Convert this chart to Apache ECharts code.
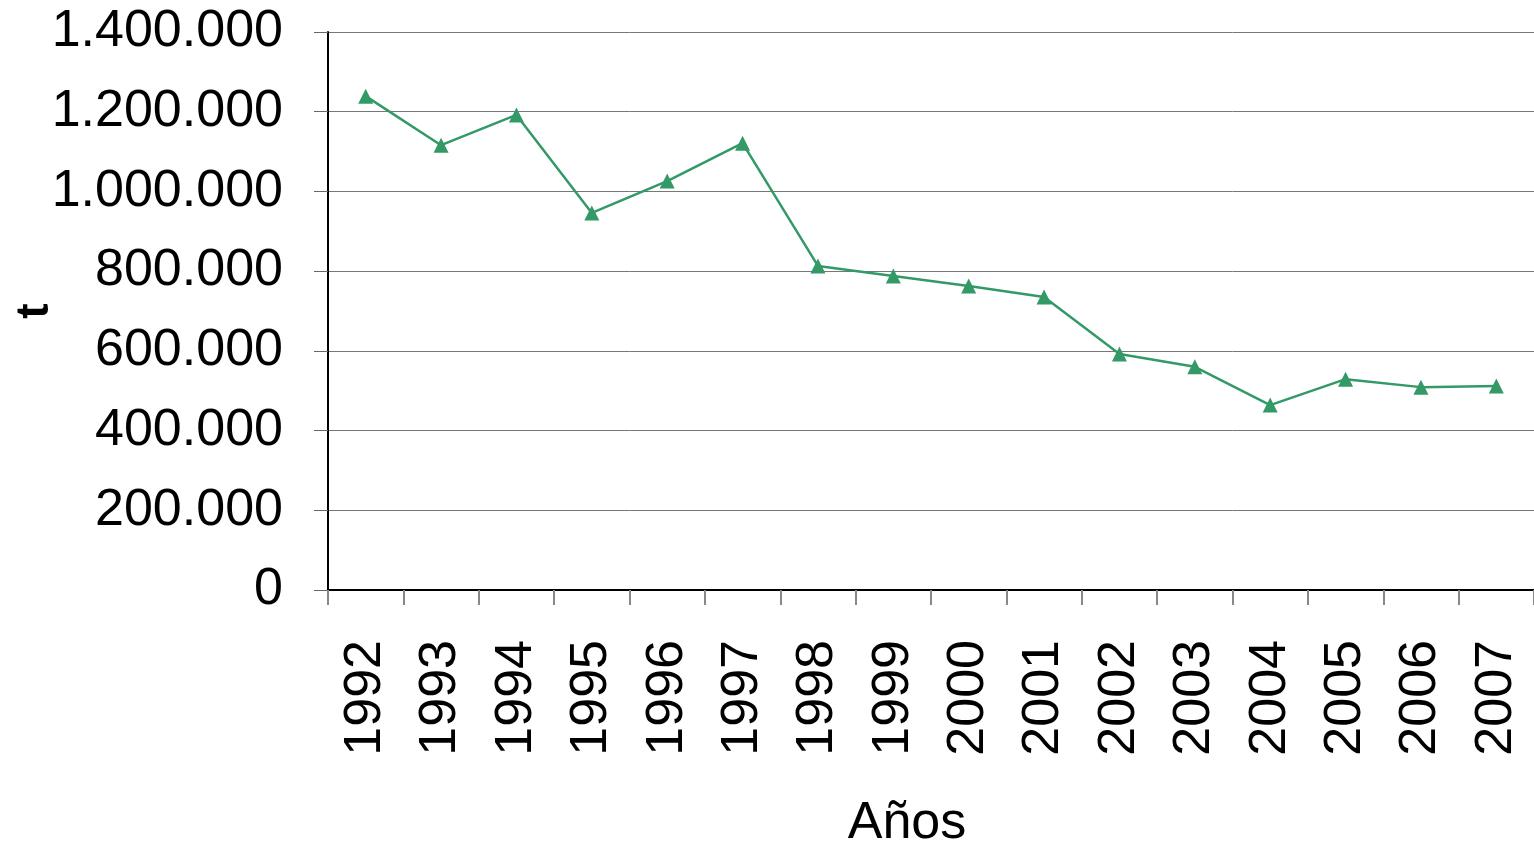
<!DOCTYPE html>
<html>
<head>
<meta charset="utf-8">
<script src="https://cdn.jsdelivr.net/npm/echarts@6/dist/echarts.min.js"></script>
<style>
  html, body { margin: 0; padding: 0; background: #fff; }
  #chart { width: 1534px; height: 849px; }
</style>
</head>
<body>
<div id="chart"></div>
<script>
  // datos
  const years = ['1992', '1993', '1994', '1995', '1996', '1997', '1998', '1999',
    '2000', '2001', '2002', '2003', '2004', '2005', '2006', '2007']
  const toneladas = [1239000, 1116000, 1192000, 946000, 1026000, 1121000, 813000, 788000,
    763000, 735000, 592000, 560000, 464000, 529000, 509000, 512000]
  const yMin = 0
  const yMax = 1400000
  const yStep = 200000

  const font = 'Liberation Sans, Arial, sans-serif'
  const chart = echarts.init(document.getElementById('chart'))

  chart.setOption({
    animation: false,
    grid: { left: 328, right: 0, top: 32, bottom: 259, containLabel: false, outerBoundsMode: 'none' },
    xAxis: {
      type: 'category',
      data: years,
      boundaryGap: true,
      name: 'Años',
      nameLocation: 'middle',
      nameGap: 208,
      nameMoveOverlap: false,
      nameTextStyle: { color: '#000', fontSize: 52, fontFamily: font, padding: [0, 48, 0, 0] },
      axisLine: { lineStyle: { color: '#000', width: 2 } },
      axisTick: { show: true, length: 15, lineStyle: { color: '#888', width: 2 } },
      axisLabel: {
        rotate: 90,
        color: '#000',
        fontSize: 52,
        fontFamily: font,
        margin: 50,
        interval: 0
      },
      splitLine: { show: false }
    },
    yAxis: {
      type: 'value',
      min: yMin,
      max: yMax,
      interval: yStep,
      name: 't',
      nameLocation: 'middle',
      nameGap: 270,
      nameMoveOverlap: false,
      nameRotate: 90,
      nameTextStyle: { color: '#000', fontSize: 46, fontWeight: 'bold', fontFamily: font },
      axisLine: { show: true, lineStyle: { color: '#000', width: 2 } },
      axisTick: { show: true, inside: false, length: 14, lineStyle: { color: '#666', width: 1 } },
      axisLabel: {
        color: '#000',
        fontSize: 52,
        fontFamily: font,
        margin: 45,
        formatter: (v) => v.toLocaleString('de-DE')
      },
      splitLine: { show: true, lineStyle: { color: '#777', width: 1 } }
    },
    series: [
      {
        type: 'line',
        data: toneladas,
        symbol: 'triangle',
        symbolSize: 15,
        itemStyle: { color: '#339966' },
        lineStyle: { color: '#339966', width: 2.5 }
      }
    ]
  })
</script>
</body>
</html>
